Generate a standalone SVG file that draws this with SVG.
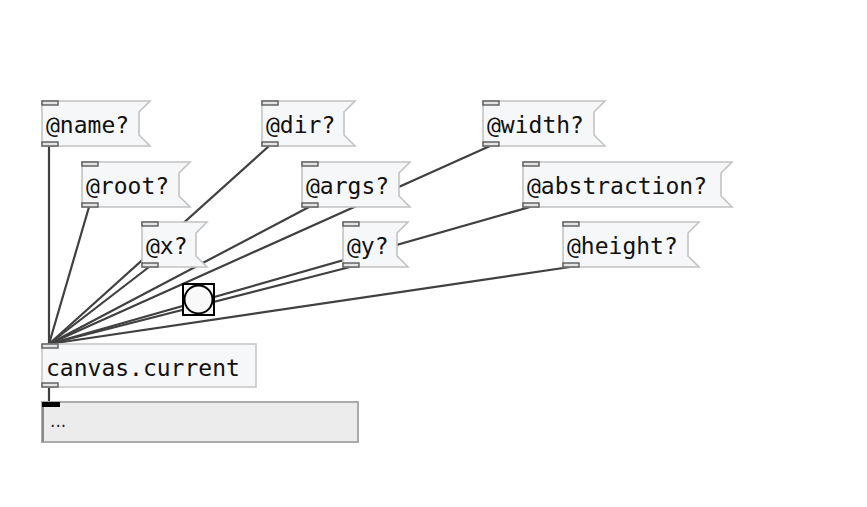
<svg xmlns="http://www.w3.org/2000/svg" width="867" height="507" viewBox="0 0 867 507">
<style>
.msg{fill:#f6f7f9;stroke:#c2c2c2;stroke-width:1.6}
.obj{fill:#f6f7f9;stroke:#c8c8c8;stroke-width:1.6}
.nub{fill:#e4e4e4;stroke:#5a5a5a;stroke-width:1.4}
.t{font-family:"DejaVu Sans Mono","Liberation Mono",monospace;font-size:23px;fill:#111}
.cord{stroke:#404040;stroke-width:2.2;fill:none}
</style>
<rect width="867" height="507" fill="#ffffff"/>
<g id="connectors">
<line class="cord" x1="49" y1="146" x2="49" y2="344"/>
<line class="cord" x1="89" y1="207" x2="49" y2="344"/>
<line class="cord" x1="269" y1="146" x2="49" y2="344"/>
<line class="cord" x1="149" y1="267" x2="49" y2="344"/>
<line class="cord" x1="309" y1="207" x2="49" y2="344"/>
<line class="cord" x1="490" y1="146" x2="49" y2="344"/>
<line class="cord" x1="350" y1="267" x2="49" y2="344"/>
<line class="cord" x1="530" y1="207" x2="49" y2="344"/>
<line class="cord" x1="570" y1="267" x2="49" y2="344"/>
<line class="cord" x1="49" y1="387" x2="49" y2="402"/>
</g>
<g id="msg-name">
<polygon class="msg" points="42,101 150,101 139,112 139,135 150,146 42,146"/>
<rect class="nub" x="42" y="101" width="16" height="4"/>
<rect class="nub" x="42" y="142" width="16" height="4"/>
<text class="t" x="46" y="133">@name?</text>
</g>
<g id="msg-dir">
<polygon class="msg" points="262,101 355,101 344,112 344,135 355,146 262,146"/>
<rect class="nub" x="262" y="101" width="16" height="4"/>
<rect class="nub" x="262" y="142" width="16" height="4"/>
<text class="t" x="266" y="133">@dir?</text>
</g>
<g id="msg-width">
<polygon class="msg" points="483,101 605,101 594,112 594,135 605,146 483,146"/>
<rect class="nub" x="483" y="101" width="16" height="4"/>
<rect class="nub" x="483" y="142" width="16" height="4"/>
<text class="t" x="487" y="133">@width?</text>
</g>
<g id="msg-root">
<polygon class="msg" points="82,162 190,162 179,173 179,196 190,207 82,207"/>
<rect class="nub" x="82" y="162" width="16" height="4"/>
<rect class="nub" x="82" y="203" width="16" height="4"/>
<text class="t" x="86" y="194">@root?</text>
</g>
<g id="msg-args">
<polygon class="msg" points="302,162 410,162 399,173 399,196 410,207 302,207"/>
<rect class="nub" x="302" y="162" width="16" height="4"/>
<rect class="nub" x="302" y="203" width="16" height="4"/>
<text class="t" x="306" y="194">@args?</text>
</g>
<g id="msg-abstraction">
<polygon class="msg" points="523,162 732,162 721,173 721,196 732,207 523,207"/>
<rect class="nub" x="523" y="162" width="16" height="4"/>
<rect class="nub" x="523" y="203" width="16" height="4"/>
<text class="t" x="527" y="194">@abstraction?</text>
</g>
<g id="msg-x">
<polygon class="msg" points="142,222 207,222 196,233 196,256 207,267 142,267"/>
<rect class="nub" x="142" y="222" width="16" height="4"/>
<rect class="nub" x="142" y="263" width="16" height="4"/>
<text class="t" x="146" y="254">@x?</text>
</g>
<g id="msg-y">
<polygon class="msg" points="343,222 408,222 397,233 397,256 408,267 343,267"/>
<rect class="nub" x="343" y="222" width="16" height="4"/>
<rect class="nub" x="343" y="263" width="16" height="4"/>
<text class="t" x="347" y="254">@y?</text>
</g>
<g id="msg-height">
<polygon class="msg" points="563,222 699,222 688,233 688,256 699,267 563,267"/>
<rect class="nub" x="563" y="222" width="16" height="4"/>
<rect class="nub" x="563" y="263" width="16" height="4"/>
<text class="t" x="567" y="254">@height?</text>
</g>
<g id="bang">
<rect x="183" y="284" width="31" height="31" fill="#f6f7f9" stroke="#000" stroke-width="2"/>
<circle cx="198.5" cy="299.5" r="14" fill="#f9f9f9" stroke="#000" stroke-width="2"/>
</g>
<g id="obj-canvas-current">
<rect class="obj" x="42" y="344" width="214" height="43"/>
<rect class="nub" x="42" y="344" width="16" height="4"/>
<rect class="nub" x="42" y="383" width="16" height="4"/>
<text class="t" x="46" y="376">canvas.current</text>
</g>
<g id="display">
<rect x="42" y="402" width="316" height="40" fill="#ececec" stroke="#ababab" stroke-width="2"/>
<line x1="43" y1="402" x2="43" y2="442" stroke="#8a8a8a" stroke-width="2"/>
<rect x="42" y="402" width="18" height="5" fill="#000"/>
<text x="50" y="427" font-family="DejaVu Sans, sans-serif" font-size="17" fill="#222">...</text>
</g>
</svg>
